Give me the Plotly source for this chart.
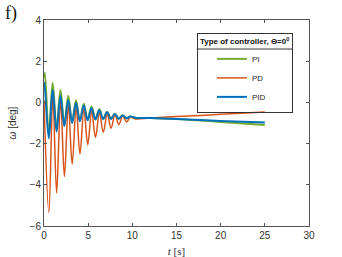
import plotly.graph_objects as go

# PI (green) knots
t_pi = [0, 0.1, 0.54, 0.98, 1.42, 1.86, 2.3, 2.74, 3.18, 3.62, 4.06, 4.5, 4.94, 5.38, 5.82,
        6.26, 6.7, 7.14, 7.58, 8.02, 8.46, 8.9, 9.34, 9.78, 10.3, 12, 15, 20, 25]
v_pi = [1.2, 1.43, -1.55, 0.95, -1.28, 0.6, -1.06, 0.32, -0.95, 0.1, -0.88, -0.06, -0.84, -0.2, -0.81,
        -0.33, -0.8, -0.45, -0.79, -0.55, -0.78, -0.62, -0.77, -0.68, -0.74, -0.76, -0.8, -0.95, -1.1]

# PD (orange) knots
t_pd = [0, 0.55, 1.0, 1.43, 1.88, 2.31, 2.76, 3.19, 3.64, 4.07, 4.52, 4.95, 5.4, 5.83, 6.28,
        6.71, 7.16, 7.59, 8.04, 8.47, 8.92, 9.35, 9.8, 10.3, 12, 15, 20, 25]
v_pd = [0.1, -5.35, 0.3, -4.4, 0.1, -3.6, -0.1, -3.0, -0.25, -2.5, -0.35, -2.05, -0.45, -1.7, -0.5,
        -1.45, -0.56, -1.25, -0.6, -1.08, -0.65, -0.95, -0.7, -0.8, -0.76, -0.69, -0.58, -0.46]

# PID (blue) knots
t_pid = [0, 0.05, 0.54, 0.98, 1.42, 1.86, 2.3, 2.74, 3.18, 3.62, 4.06, 4.5, 4.94, 5.38, 5.82,
         6.26, 6.7, 7.14, 7.58, 8.02, 8.46, 8.9, 9.34, 9.78, 10.3, 12, 15, 20, 25]
v_pid = [0.8, 0.95, -1.75, 0.62, -1.42, 0.32, -1.15, 0.12, -1.0, -0.03, -0.92, -0.15, -0.87, -0.27, -0.83,
         -0.38, -0.81, -0.48, -0.8, -0.56, -0.79, -0.63, -0.77, -0.68, -0.74, -0.76, -0.8, -0.9, -0.98]

x_ticks = [0, 5, 10, 15, 20, 25, 30]
y_ticks = [-6, -4, -2, 0, 2, 4]

fig = go.Figure()
fig.add_trace(go.Scatter(x=t_pi, y=v_pi, mode="lines", name="PI",
                         line=dict(color="#77AC30", width=2, shape="spline")))
fig.add_trace(go.Scatter(x=t_pd, y=v_pd, mode="lines", name="PD",
                         line=dict(color="#D95319", width=1.5, shape="spline")))
fig.add_trace(go.Scatter(x=t_pid, y=v_pid, mode="lines", name="PID",
                         line=dict(color="#0072BD", width=2, shape="spline")))

axis_common = dict(showline=True, mirror="ticks", linecolor="#555555", linewidth=1,
                   ticks="inside", ticklen=3, tickcolor="#555555", showgrid=False,
                   zeroline=False, automargin=False,
                   tickfont=dict(family="Liberation Sans, Arial", size=10, color="#333333"))

fig.update_xaxes(range=[0, 30], tickvals=x_ticks,
                 title=dict(text="<i>t</i> [s]", font=dict(family="Liberation Serif", size=11, color="#333333"),
                            standoff=7),
                 **axis_common)
fig.update_yaxes(range=[-6, 4], tickvals=y_ticks,
                 title=dict(text="<i>ω</i> [deg]", font=dict(family="Liberation Sans", size=10, color="#333333"),
                            standoff=11),
                 **axis_common)

fig.update_layout(
    width=342, height=257,
    margin=dict(l=44, r=33, t=20, b=31),
    plot_bgcolor="white", paper_bgcolor="white",
    showlegend=True,
    legend=dict(
        x=0.577, y=0.937, xanchor="left", yanchor="top",
        bgcolor="rgba(0,0,0,0)", bordercolor="#333333", borderwidth=1,
        font=dict(family="Liberation Sans, Arial", size=8, color="#222222"),
        title=dict(text="<b>Type of controller, Θ=0<sup>0</sup></b>",
                   font=dict(family="Liberation Sans, Arial", size=8, color="#111111")),
        tracegroupgap=0, itemwidth=30, indentation=14,
    ),
    shapes=[dict(type="line", xref="paper", yref="paper", x0=0.577, x1=0.936,
                 y0=0.859, y1=0.859, line=dict(color="#333333", width=1), layer="above")],
    annotations=[dict(text="f)", x=-0.125, y=1.03, xref="paper", yref="paper",
                      xanchor="center", yanchor="middle", showarrow=False,
                      font=dict(family="Liberation Serif", size=18, color="#111111"))],
)

fig.write_html("out.html")
